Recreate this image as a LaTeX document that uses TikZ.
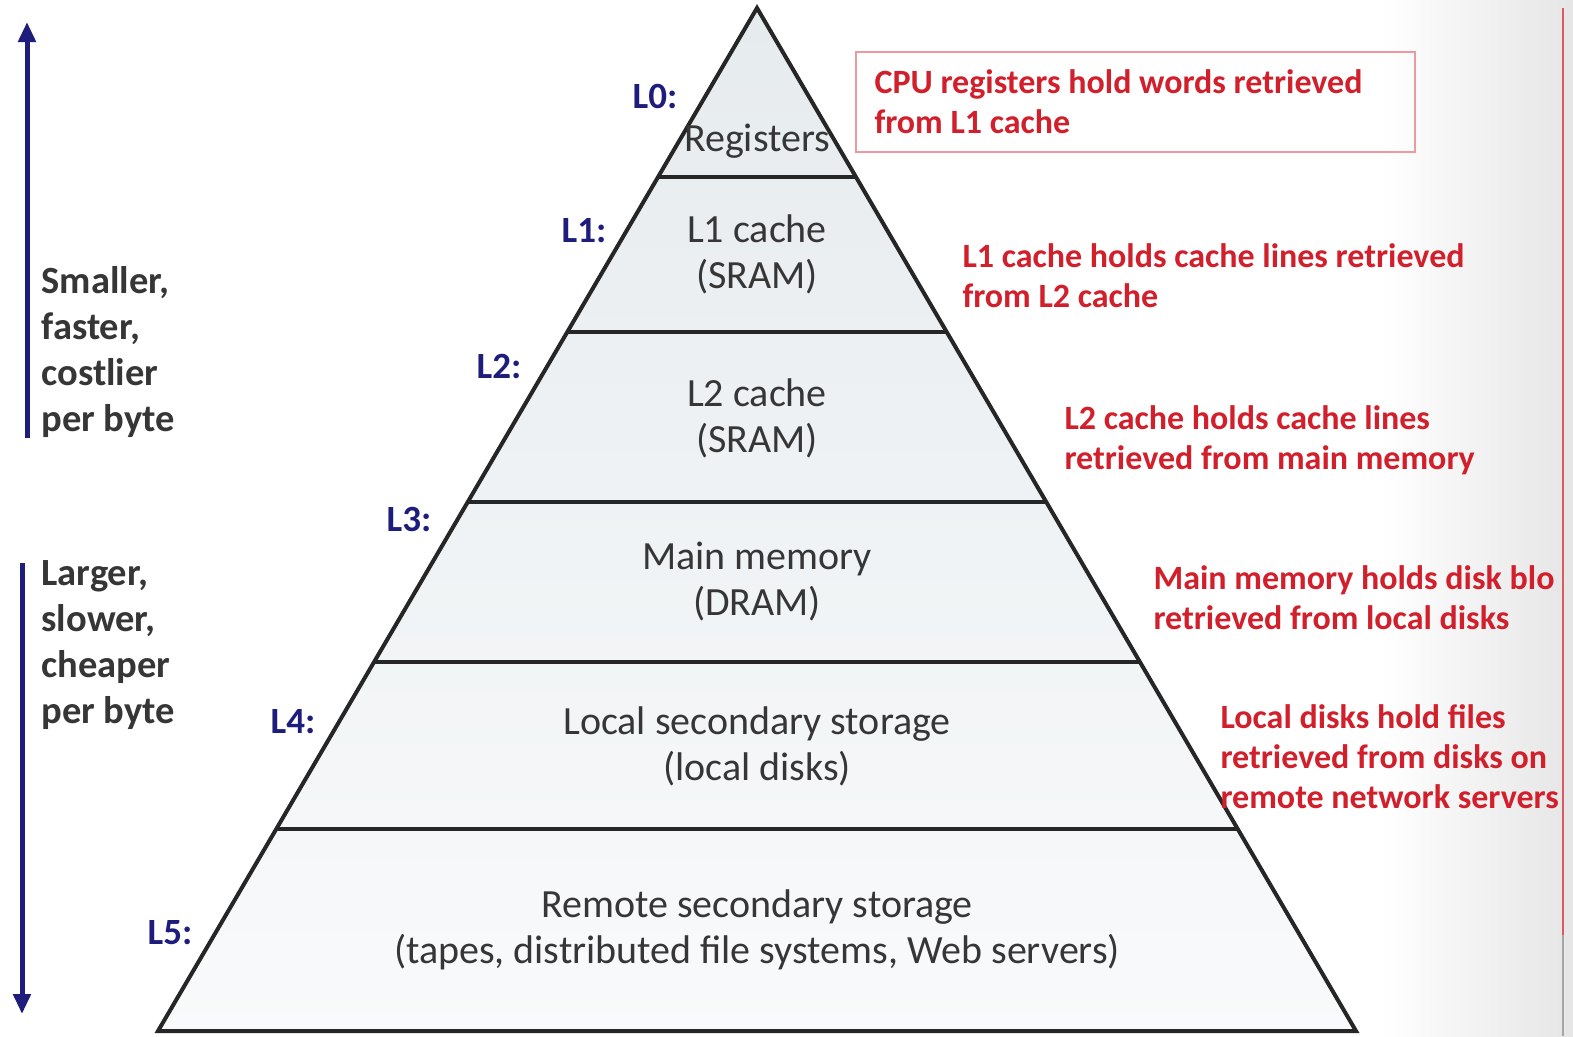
\documentclass[tikz,border=0pt]{standalone}
\usepackage{fontspec}
\setmainfont{Carlito}
\usetikzlibrary{calc, positioning, arrows.meta}
\definecolor{levelblue}{HTML}{1F1D7C}
\definecolor{notered}{HTML}{D1202C}
\definecolor{textgray}{HTML}{363636}
\definecolor{layerfill}{HTML}{E6EBEE}

\begin{document}
\begin{tikzpicture}[x=1pt, y=-1pt,
    pyramid/.style={line width=4pt, draw=black!85},
    level/.style={text=levelblue, font=\fontsize{37}{40}\selectfont\bfseries},
    layer/.style={text=textgray, align=center, font=\fontsize{40}{46}\selectfont},
    note/.style={text=notered, align=left, anchor=west, font=\fontsize{34}{40}\selectfont\bfseries},
    side/.style={text=textgray, align=left, anchor=west, font=\fontsize{38.5}{46}\selectfont\bfseries},
    trend/.style={levelblue, line width=5pt, -{Triangle[length=20pt,width=17pt]}}]

  %► Page and background
  \useasboundingbox (0,0) rectangle (1573,1036);
  \fill[white] (0,0) rectangle (1573,1036);
  \shade[left color=white, right color=black!10] (1380,0) rectangle (1573,1036);
  \draw[notered!75, line width=2pt] (1563,8) -- (1563,935);
  \draw[black!35, line width=2pt] (1563,935) -- (1563,1036);

  %► Pyramid corners
  \coordinate (A) at (757,8);     % apex
  \coordinate (B) at (158,1031);  % left base
  \coordinate (C) at (1356,1031); % right base

  %► Body and layer lines
  \shade[top color=layerfill, bottom color=layerfill!25] (A) -- (B) -- (C) -- cycle;
  \foreach \t in {0.1652, 0.3167, 0.4829, 0.6393, 0.8025}
    \draw[pyramid] ($(A)!\t!(B)$) -- ($(A)!\t!(C)$);
  \draw[pyramid] (A) -- (B) -- (C) -- cycle;

  %► Layer texts
  \node[layer] (reg)    at (757,141) {Registers};
  \node[layer] (l1c)    at (757,254) {L1 cache\\(SRAM)};
  \node[layer] (l2c)    at (757,418) {L2 cache\\(SRAM)};
  \node[layer] (dram)   at (757,582) {Main memory\\(DRAM)};
  \node[layer] (local)  at (757,746) {Local secondary storage\\(local disks)};
  \node[layer] (remote) at (757,930) {Remote secondary storage\\(tapes, distributed file systems, Web servers)};

  %► Level labels
  \node[level] (lv0) at (655,96)  {L0:};
  \node[level] (lv1) at (584,231) {L1:};
  \node[level] (lv2) at (499,366) {L2:};
  \node[level] (lv3) at (409,519) {L3:};
  \node[level] (lv4) at (293,722) {L4:};
  \node[level] (lv5) at (170,933) {L5:};

  %► Notes on the right
  \draw[notered!45, line width=1.5pt] (856,52) rectangle (1415,152);
  \node[note] (n0) at (871,102) {CPU registers hold words retrieved\\from L1 cache};
  \node[note] (n1) at (959,276) {L1 cache holds cache lines retrieved\\from L2 cache};
  \node[note] (n2) at (1061,440) {L2 cache holds cache lines\\retrieved from main memory};
  \node[note] (n3) at (1150,598) {Main memory holds disk blo\\retrieved from local disks};
  \node[note] (n4) at (1217,757) {Local disks hold files\\retrieved from disks on\\remote network servers};

  %► Trend arrows and texts
  \coordinate (upS) at (27,438);
  \coordinate (upE) at (27,22);
  \coordinate (dnS) at (22,563);
  \coordinate (dnE) at (22,1014);
  \draw[trend] (upS) -- (upE);
  \draw[trend] (dnS) -- (dnE);
  \node[side] (small) at (38,352) {Smaller,\\faster,\\costlier\\per byte};
  \node[side] (large) at (38,645) {Larger,\\slower,\\cheaper\\per byte};
\end{tikzpicture}
\end{document}
